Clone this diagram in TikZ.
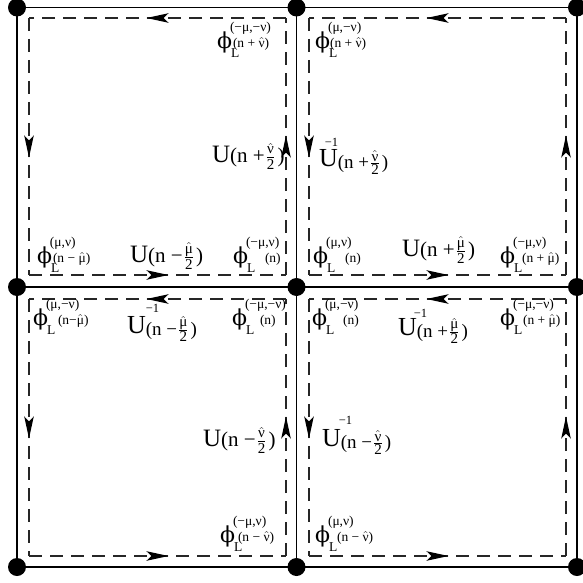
\documentclass[tikz,border=0pt]{standalone}
\usepackage{fontspec}
\setmainfont{Liberation Serif}
\newfontfamily\phifont{DejaVu Serif}
\usetikzlibrary{arrows.meta,decorations.markings}

\newcommand\smf{\fontsize{13.5}{13.5}\selectfont}
\newcommand\frf{\fontsize{15}{15}\selectfont}
\newcommand\hatt[1]{$\hat{\hbox{#1}}$}
\newcommand\frc[2]{$\frac{\hbox{\frf #1}}{\hbox{\frf #2}}$}
% phi label: sup, arg, arg kern
\newcommand\PhiLab[3]{%
\rlap{{\phifont\fontsize{22}{22}\selectfont ϕ}}%
\rlap{\kern13pt\raisebox{17pt}{\smf #1}}%
\rlap{\kern14pt\raisebox{-9pt}{\smf L}}%
\kern#3\raisebox{1pt}{\smf #2}}
% U label: sign, letter
\newcommand\ULab[2]{{\fontsize{25}{25}\selectfont U}{\fontsize{21}{21}\selectfont(n #1\kern1pt\frc{\hatt{#2}}{2}\kern2pt)}}
% U inverse label: sign, letter, sup kern, sup raise
\newcommand\UinvLab[4]{{\fontsize{26}{26}\selectfont U}\rlap{\kern#3\raisebox{#4}{\fontsize{12.5}{12.5}\selectfont −1}}\raisebox{-2pt}{\fontsize{19}{19}\selectfont(n #1\kern1pt\frc{\hatt{#2}}{2}\kern2pt)}}

\tikzset{
  dot/.style={circle, fill=black, inner sep=0pt, minimum size=18pt},
  gridline/.style={line width=1.4pt, black},
  loopedge/.style={line width=1.2pt, black!85, dash pattern=on 13pt off 8pt,
    postaction={decorate},
    decoration={markings, mark=at position 139.5pt with {\arrow{Stealth[length=22pt,width=9.5pt,inset=5pt,color=black]}}}},
  lab/.style={anchor=base west, inner sep=0pt, outer sep=0pt}
}

\begin{document}
\begin{tikzpicture}[x=1pt,y=-1pt]
\useasboundingbox (0,0) rectangle (582,583);

% lattice sites
\node[dot] (d11) at (17,7.5) {};
\node[dot] (d12) at (296.5,7.5) {};
\node[dot] (d13) at (577,7.5) {};
\node[dot] (d21) at (17,287) {};
\node[dot] (d22) at (296.5,287) {};
\node[dot] (d23) at (577,287) {};
\node[dot] (d31) at (17,567) {};
\node[dot] (d32) at (296.5,567) {};
\node[dot] (d33) at (577,567) {};

\draw[gridline] (d11.center) -- (d13.center);
\draw[gridline] (d21.center) -- (d23.center);
\draw[gridline] (d31.center) -- (d33.center);
\draw[gridline] (d11.center) -- (d31.center);
\draw[gridline] (d12.center) -- (d32.center);
\draw[gridline] (d13.center) -- (d33.center);

% dashed loops
\foreach \c/\xl/\xr/\yt/\yb in {A/29/286/18/275, B/309/566/18/275, C/29/286/299/556, D/309/566/299/556}{
  \coordinate (\c-nw) at (\xl,\yt);
  \coordinate (\c-ne) at (\xr,\yt);
  \coordinate (\c-sw) at (\xl,\yb);
  \coordinate (\c-se) at (\xr,\yb);
  \draw[loopedge] (\c-ne) -- (\c-nw);
  \draw[loopedge] (\c-nw) -- (\c-sw);
  \draw[loopedge] (\c-sw) -- (\c-se);
  \draw[loopedge] (\c-se) -- (\c-ne);
}

% phi labels
\node[lab] (l1) at (217,48.5) {\PhiLab{(−μ,−ν)}{(n + \hatt{ν})}{16pt}};
\node[lab] (l6) at (315,48.5) {\PhiLab{(μ,−ν)}{(n + \hatt{ν})}{15pt}};
\node[lab] (l3) at (37,263.5) {\PhiLab{(μ,ν)}{(n − \hatt{μ})}{16pt}};
\node[lab] (l5) at (233,263.5) {\PhiLab{(−μ,ν)}{(n)}{32pt}};
\node[lab] (l8) at (313,263.5) {\PhiLab{(μ,ν)}{(n)}{32pt}};
\node[lab] (l10) at (500,263.5) {\PhiLab{(−μ,ν)}{(n + \hatt{μ})}{22pt}};
\node[lab] (l11) at (33,325.5) {\PhiLab{(μ,−ν)}{(n−\hatt{μ})}{25pt}};
\node[lab] (l13) at (232,325.5) {\PhiLab{(−μ,−ν)}{(n)}{28pt}};
\node[lab] (l14) at (312,325.5) {\PhiLab{(μ,−ν)}{(n)}{31pt}};
\node[lab] (l16) at (500,325.5) {\PhiLab{(−μ,−ν)}{(n + \hatt{μ})}{23pt}};
\node[lab] (l19) at (220,542.5) {\PhiLab{(−μ,ν)}{(n − \hatt{ν})}{18pt}};
\node[lab] (l20) at (315,542.5) {\PhiLab{(μ,ν)}{(n − \hatt{ν})}{22pt}};

% link labels
\node[lab] (l2) at (212,162) {\ULab{+}{ν}};
\node[lab] (l4) at (130,262) {\ULab{−}{μ}};
\node[lab] (l9) at (402,256) {\ULab{+}{μ}};
\node[lab] (l18) at (203,446) {\ULab{−}{ν}};
\node[lab] (l7) at (319,166) {\UinvLab{+}{ν}{-13pt}{20pt}};
\node[lab] (l12) at (127,333) {\UinvLab{−}{μ}{0pt}{21pt}};
\node[lab] (l15) at (398,335) {\UinvLab{+}{μ}{-3pt}{18pt}};
\node[lab] (l17) at (322,446) {\UinvLab{−}{ν}{-2pt}{22pt}};
\end{tikzpicture}
\end{document}
